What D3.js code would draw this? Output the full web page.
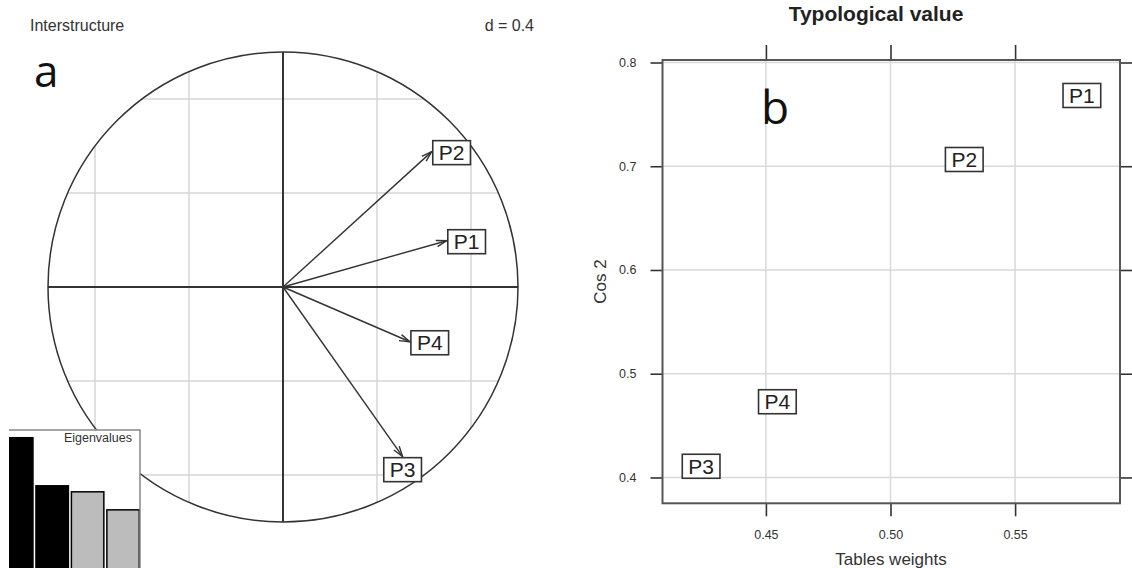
<!DOCTYPE html>
<html>
<head>
<meta charset="utf-8">
<script src="https://cdn.jsdelivr.net/npm/d3@7"></script>
<style>
  body { margin: 0; background: #fff; }
  svg { display: block; font-family: 'Liberation Sans', Arial, sans-serif; }
</style>
</head>
<body>
<svg id="chart" width="1132" height="568"></svg>
<script>
// tables and their coordinates
const tables = ['P1', 'P2', 'P3', 'P4'];
const interX = [0.697, 0.633, 0.509, 0.540];
const interY = [0.197, 0.576, -0.722, -0.233];
const tabWeights = [0.5768, 0.5296, 0.424, 0.4546];
const cos2 = [0.7682, 0.7065, 0.4108, 0.473];
const eigenvalues = [1.42, 0.94, 0.88, 0.70];
const gridSteps = [-0.8, -0.4, 0.4, 0.8];
const xTicks = [0.45, 0.50, 0.55];
const yTicks = [0.4, 0.5, 0.6, 0.7, 0.8];

const svg = d3.select('#chart');

function labelBox(g, x, y, text, anchor) {
  // anchor: 'left' = box starts at x, 'below' = box centered under y, 'center'
  const t = g.append('text')
    .attr('font-size', 21)
    .attr('fill', '#222')
    .text(text);
  const w = t.node().getComputedTextLength() + 12;
  const h = 24;
  let bx = x - w / 2, by = y - h / 2;
  if (anchor === 'left') bx = x + 1;
  if (anchor === 'below') by = y + 1;
  g.insert('rect', 'text:last-child')
    .attr('x', bx).attr('y', by)
    .attr('width', w).attr('height', h)
    .attr('fill', '#fff')
    .attr('stroke', '#333')
    .attr('stroke-width', 1.6);
  t.attr('x', bx + w / 2).attr('y', by + h / 2 + 7.5).attr('text-anchor', 'middle');
}

// ---------- panel a : interstructure ----------
const sx = d3.scaleLinear().domain([-1, 1]).range([48, 518]);
const sy = d3.scaleLinear().domain([-1, 1]).range([522, 52]);
const pa = svg.append('g');

pa.append('text').attr('x', 30).attr('y', 31).attr('font-size', 16).attr('fill', '#333').text('Interstructure');
pa.append('text').attr('x', 534).attr('y', 31).attr('font-size', 16).attr('fill', '#333')
  .attr('text-anchor', 'end').text('d = 0.4');

// grid inside the circle
gridSteps.forEach(v => {
  const h = Math.sqrt(1 - v * v);
  pa.append('line').attr('x1', sx(v)).attr('x2', sx(v)).attr('y1', sy(h)).attr('y2', sy(-h))
    .attr('stroke', '#d6d6d6').attr('stroke-width', 1.5);
  pa.append('line').attr('y1', sy(v)).attr('y2', sy(v)).attr('x1', sx(-h)).attr('x2', sx(h))
    .attr('stroke', '#d6d6d6').attr('stroke-width', 1.5);
});

pa.append('circle').attr('cx', sx(0)).attr('cy', sy(0)).attr('r', sx(1) - sx(0))
  .attr('fill', 'none').attr('stroke', '#333').attr('stroke-width', 1.5);
pa.append('line').attr('x1', sx(-1)).attr('x2', sx(1)).attr('y1', sy(0)).attr('y2', sy(0))
  .attr('stroke', '#333').attr('stroke-width', 2);
pa.append('line').attr('x1', sx(0)).attr('x2', sx(0)).attr('y1', sy(1)).attr('y2', sy(-1))
  .attr('stroke', '#333').attr('stroke-width', 2);

tables.forEach((name, i) => {
  const x1 = sx(interX[i]), y1 = sy(interY[i]);
  const x0 = sx(0), y0 = sy(0);
  const ang = Math.atan2(y1 - y0, x1 - x0);
  pa.append('line').attr('x1', x0).attr('y1', y0).attr('x2', x1).attr('y2', y1)
    .attr('stroke', '#333').attr('stroke-width', 1.4);
  const head = [ang + Math.PI - 0.3, ang + Math.PI + 0.3].map(a => [x1 + 11 * Math.cos(a), y1 + 11 * Math.sin(a)]);
  pa.append('path')
    .attr('d', `M${head[0][0]},${head[0][1]}L${x1},${y1}L${head[1][0]},${head[1][1]}`)
    .attr('fill', 'none').attr('stroke', '#333').attr('stroke-width', 1.4);
  const below = Math.abs(interY[i]) > Math.abs(interX[i]);
  labelBox(pa.append('g'), x1, below ? y1 : y1 + 1, name, below ? 'below' : 'left');
});

pa.append('text').attr('x', 34).attr('y', 87)
  .attr('font-family', "'Open Sans', sans-serif").attr('font-size', 44).attr('fill', '#111').text('a');

// eigenvalues inset
const inset = pa.append('g');
inset.append('clipPath').attr('id', 'eigclip')
  .append('rect').attr('x', 9).attr('y', 430).attr('width', 131).attr('height', 160);
inset.append('rect').attr('x', 9).attr('y', 430).attr('width', 131).attr('height', 160)
  .attr('fill', '#fff');
const eb = d3.scaleBand().domain(d3.range(eigenvalues.length)).range([0.5, 139.3]).paddingInner(0.085);
const ey = d3.scaleLinear().domain([0, d3.max(eigenvalues)]).range([580, 437.7]);
inset.append('g').attr('clip-path', 'url(#eigclip)')
  .selectAll('rect').data(eigenvalues).join('rect')
  .attr('x', (d, i) => eb(i)).attr('width', eb.bandwidth())
  .attr('y', d => ey(d)).attr('height', d => ey(0) - ey(d))
  .attr('fill', (d, i) => i < 2 ? '#000' : '#bcbcbc')
  .attr('stroke', '#000').attr('stroke-width', 1.5);
inset.append('path').attr('d', 'M9,430H140V575')
  .attr('fill', 'none').attr('stroke', '#888').attr('stroke-width', 1.5);
inset.append('text').attr('x', 132).attr('y', 442).attr('text-anchor', 'end')
  .attr('font-size', 12.5).attr('fill', '#333').text('Eigenvalues');

// ---------- panel b : typological value ----------
const x = d3.scaleLinear().domain([0.4085, 0.5921]).range([662.5, 1120]);
const y = d3.scaleLinear().domain([0.3751, 0.8024]).range([503.3, 60]);
const pb = svg.append('g');

pb.append('text').attr('x', 876).attr('y', 21).attr('text-anchor', 'middle')
  .attr('font-size', 21).attr('font-weight', 'bold').attr('fill', '#222').text('Typological value');

pb.selectAll('line.gx').data(xTicks).join('line').attr('class', 'gx')
  .attr('x1', d => x(d)).attr('x2', d => x(d)).attr('y1', y.range()[1]).attr('y2', y.range()[0])
  .attr('stroke', '#d9d9d9').attr('stroke-width', 1.5);
pb.selectAll('line.gy').data(yTicks).join('line').attr('class', 'gy')
  .attr('y1', d => y(d)).attr('y2', d => y(d)).attr('x1', x.range()[0]).attr('x2', x.range()[1])
  .attr('stroke', '#d9d9d9').attr('stroke-width', 1.5);

function styleAxis(g) {
  g.select('.domain').remove();
  g.selectAll('.tick line').attr('stroke', '#333').attr('stroke-width', 1.6);
  g.selectAll('.tick text').attr('fill', '#333').attr('font-size', 12.5)
    .attr('font-family', "'Liberation Sans', Arial, sans-serif");
}

pb.append('g').attr('transform', 'translate(0,503.3)')
  .call(d3.axisBottom(x).tickValues(xTicks).tickSize(13).tickPadding(14).tickFormat(d3.format('.2f')))
  .call(styleAxis);
pb.append('g').attr('transform', 'translate(0,60)')
  .call(d3.axisTop(x).tickValues(xTicks).tickSize(15).tickFormat(''))
  .call(styleAxis);
pb.append('g').attr('transform', 'translate(662.5,0)')
  .call(d3.axisLeft(y).tickValues(yTicks).tickSize(12).tickPadding(14).tickFormat(d3.format('.1f')))
  .call(styleAxis);
pb.append('g').attr('transform', 'translate(1120,0)')
  .call(d3.axisRight(y).tickValues(yTicks).tickSize(12).tickFormat(''))
  .call(styleAxis);

pb.append('rect').attr('x', 662.5).attr('y', 60).attr('width', 1120 - 662.5).attr('height', 503.3 - 60)
  .attr('fill', 'none').attr('stroke', '#555').attr('stroke-width', 2);

pb.append('text').attr('x', 891).attr('y', 565).attr('text-anchor', 'middle')
  .attr('font-size', 17).attr('fill', '#333').text('Tables weights');
pb.append('text').attr('transform', 'translate(606,281.5) rotate(-90)').attr('text-anchor', 'middle')
  .attr('font-size', 17).attr('fill', '#333').text('Cos 2');

pb.append('text').attr('x', 761).attr('y', 124)
  .attr('font-family', "'Open Sans', sans-serif").attr('font-size', 46).attr('fill', '#111').text('b');

tables.forEach((name, i) => {
  labelBox(pb.append('g'), x(tabWeights[i]), y(cos2[i]), name, 'center');
});
</script>
</body>
</html>
